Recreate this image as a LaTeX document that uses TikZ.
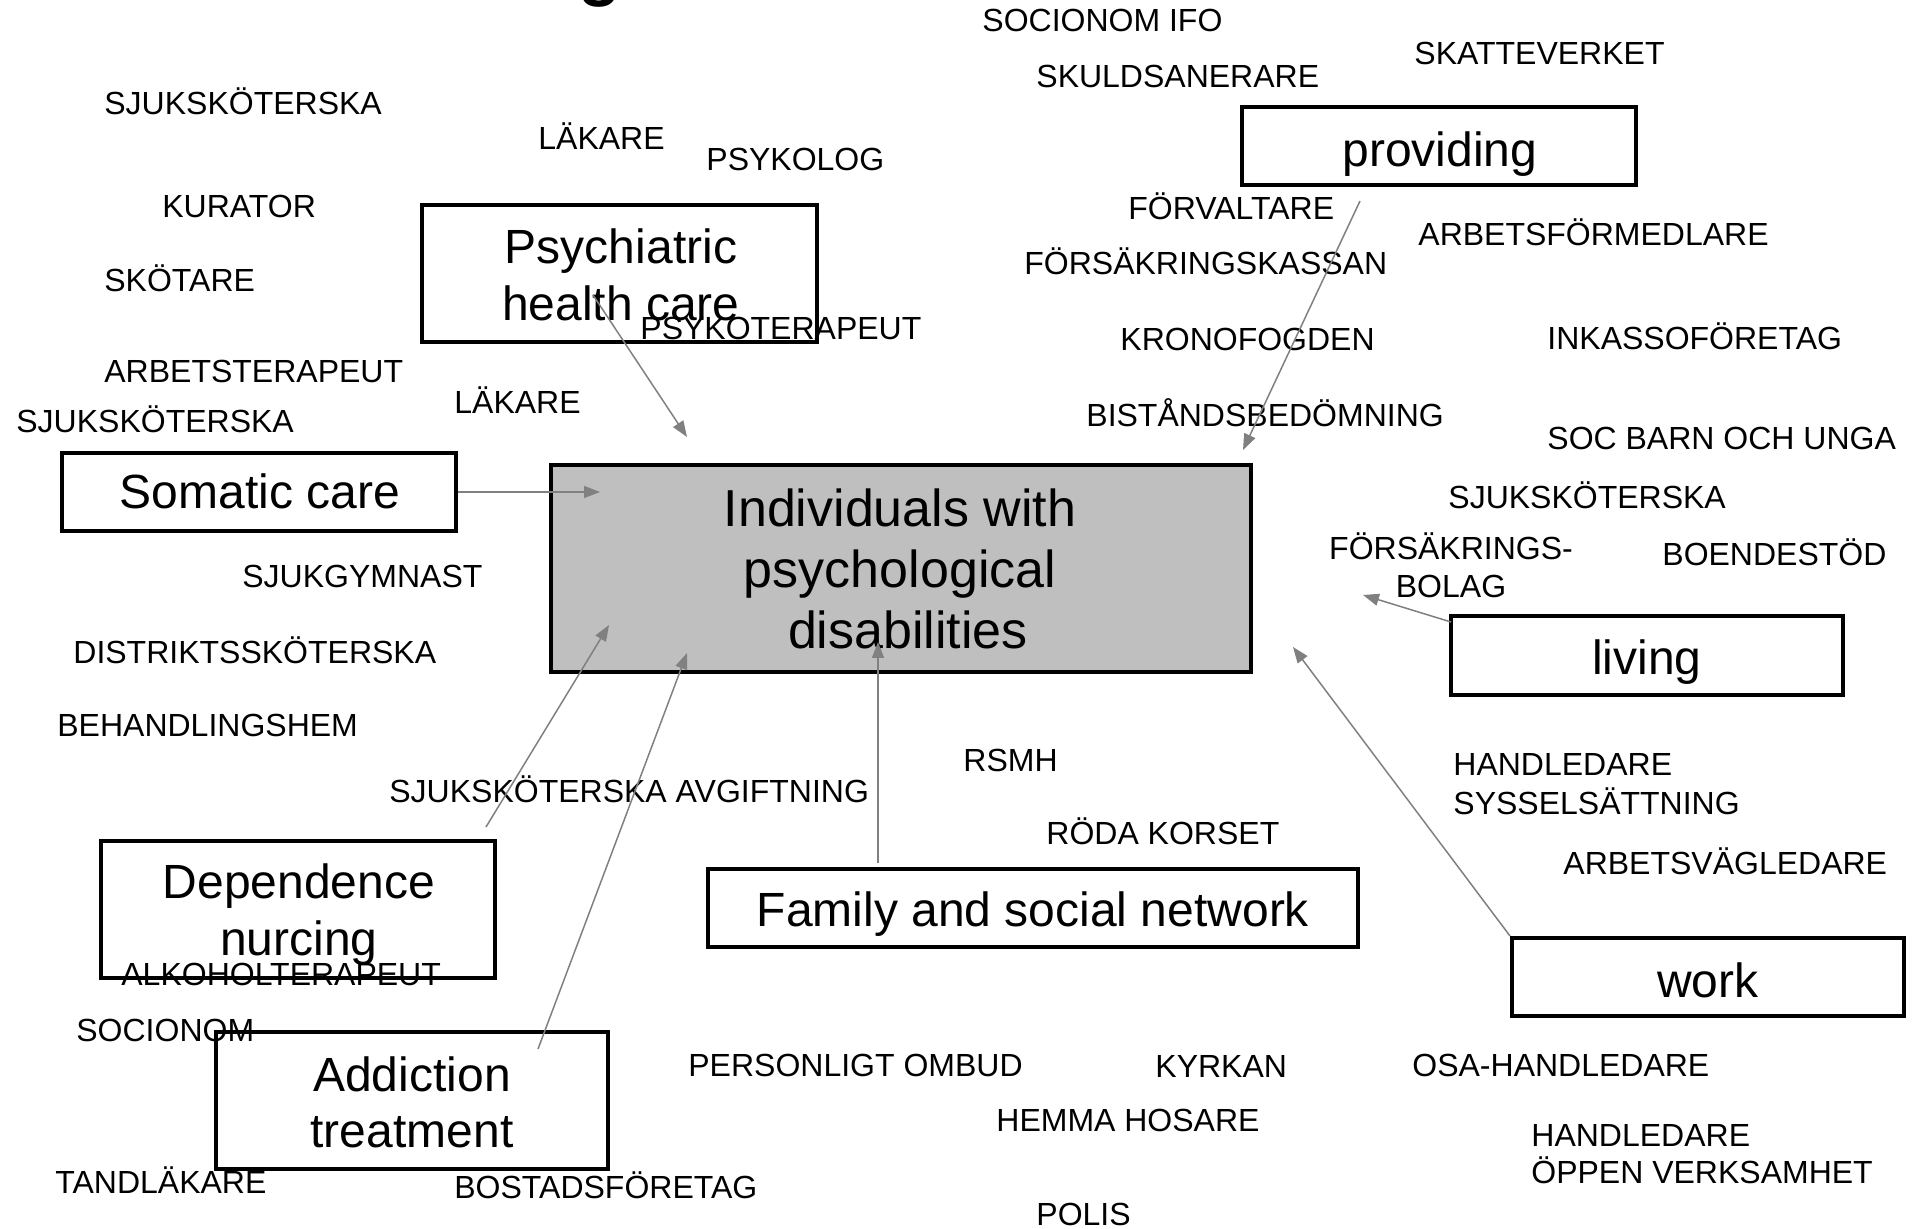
\documentclass[tikz,border=0pt]{standalone}
\usepackage{fontspec}
\setmainfont{Liberation Sans}
\usetikzlibrary{arrows.meta}
\definecolor{boxgray}{HTML}{BFBFBF}
\definecolor{arrgray}{HTML}{808080}
\tikzset{
  box/.style={draw=black, line width=2pt, inner sep=0pt},
  lbl/.style={anchor=base west, inner sep=0pt, font=\fontsize{16}{19}\selectfont},
  lblc/.style={anchor=base, inner sep=0pt, font=\fontsize{16}{19}\selectfont},
  big/.style={anchor=base, inner sep=0pt, font=\fontsize{24}{28}\selectfont},
  bigc/.style={anchor=base, inner sep=0pt, font=\fontsize{26}{30}\selectfont},
  arr/.style={draw=arrgray, line width=0.75pt, -{Triangle[length=8pt,width=6pt]}, arrgray}
}
\begin{document}
\begin{tikzpicture}[x=0.5pt,y=-0.5pt]
\useasboundingbox (0,0) rectangle (1913,1229);
% cut-off title fragment
\node[anchor=base, inner sep=0pt, font=\fontsize{35}{40}\selectfont\bfseries] (title) at (600,-7) {g};

% boxes
\node[box, fill=boxgray, minimum width=350pt, minimum height=103.5pt] (ind) at (901,568.5) {};
\node[box, minimum width=197.5pt, minimum height=68.5pt] (psy) at (619.5,273.5) {};
\node[box, minimum width=197pt, minimum height=39pt] (prov) at (1439,146) {};
\node[box, minimum width=197pt, minimum height=39pt] (som) at (259,492) {};
\node[box, minimum width=196pt, minimum height=39.5pt] (liv) at (1647,655.5) {};
\node[box, minimum width=197pt, minimum height=68.5pt] (dep) at (298,909.5) {};
\node[box, minimum width=325pt, minimum height=39pt] (fam) at (1033,908) {};
\node[box, minimum width=196pt, minimum height=39pt] (work) at (1708,977) {};
\node[box, minimum width=196pt, minimum height=68.5pt] (add) at (412,1100.5) {};

% box texts
\node[bigc] (indA) at (900,527) {Individuals with};
\node[bigc] (indB) at (900,588) {psychological};
\node[bigc] (indC) at (908,649) {disabilities};
\node[big] (psyA) at (621,264) {Psychiatric};
\node[big] (psyB) at (621,321) {health care};
\node[big] (provA) at (1440,167) {providing};
\node[big] (somA) at (260,509) {Somatic care};
\node[big] (livA) at (1647,675) {living};
\node[big] (depA) at (299,899) {Dependence};
\node[big] (depB) at (299,955) {nurcing};
\node[big] (famA) at (1033,927) {Family and social network};
\node[big] (workA) at (1708,997) {work};
\node[big] (addA) at (412,1091) {Addiction};
\node[big] (addB) at (412,1147) {treatment};

% labels
\node[lbl] (l1) at (982,32) {SOCIONOM IFO};
\node[lbl] (l2) at (1414,65) {SKATTEVERKET};
\node[lbl] (l3) at (1036,88) {SKULDSANERARE};
\node[lbl] (l4) at (104,115) {SJUKSKÖTERSKA};
\node[lbl] (l5) at (538,150) {LÄKARE};
\node[lbl] (l6) at (706,171) {PSYKOLOG};
\node[lbl] (l7) at (162,218) {KURATOR};
\node[lbl] (l8) at (1128,220) {FÖRVALTARE};
\node[lbl] (l9) at (1418,246) {ARBETSFÖRMEDLARE};
\node[lbl] (l10) at (1024,275) {FÖRSÄKRINGSKASSAN};
\node[lbl] (l11) at (104,292) {SKÖTARE};
\node[lbl] (l12) at (640,340) {PSYKOTERAPEUT};
\node[lbl] (l13) at (1120,351) {KRONOFOGDEN};
\node[lbl] (l14) at (1547,350) {INKASSOFÖRETAG};
\node[lbl] (l15) at (104,383) {ARBETSTERAPEUT};
\node[lbl] (l16) at (454,414) {LÄKARE};
\node[lbl] (l17) at (1086,427) {BISTÅNDSBEDÖMNING};
\node[lbl] (l18) at (16,433) {SJUKSKÖTERSKA};
\node[lbl] (l19) at (1547,450) {SOC BARN OCH UNGA};
\node[lbl] (l20) at (1448,509) {SJUKSKÖTERSKA};
\node[lblc] (l21a) at (1451,560) {FÖRSÄKRINGS-};
\node[lblc] (l21b) at (1451,598) {BOLAG};
\node[lbl] (l22) at (1662,566) {BOENDESTÖD};
\node[lbl] (l23) at (242,588) {SJUKGYMNAST};
\node[lbl] (l24) at (73,664) {DISTRIKTSSKÖTERSKA};
\node[lbl] (l25) at (57,737) {BEHANDLINGSHEM};
\node[lbl] (l26) at (963,772) {RSMH};
\node[lbl] (l27a) at (1453,776) {HANDLEDARE};
\node[lbl] (l27b) at (1453,815) {SYSSELSÄTTNING};
\node[lbl] (l28) at (389,803) {SJUKSKÖTERSKA AVGIFTNING};
\node[lbl] (l29) at (1046,844) {RÖDA KORSET};
\node[lbl] (l30) at (1563,874) {ARBETSVÄGLEDARE};
\node[lbl] (l31) at (121,985) {ALKOHOLTERAPEUT};
\node[lbl] (l32) at (76,1041) {SOCIONOM};
\node[lbl] (l33) at (688,1076) {PERSONLIGT OMBUD};
\node[lbl] (l34) at (1155,1077) {KYRKAN};
\node[lbl] (l35) at (1412,1076) {OSA-HANDLEDARE};
\node[lbl] (l36) at (996,1131) {HEMMA HOSARE};
\node[lbl] (l37a) at (1531,1146) {HANDLEDARE};
\node[lbl] (l37b) at (1531,1183) {ÖPPEN VERKSAMHET};
\node[lbl] (l38) at (55,1193) {TANDLÄKARE};
\node[lbl] (l39) at (454,1198) {BOSTADSFÖRETAG};
\node[lbl] (l40) at (1036,1225) {POLIS};

% arrow end points
\coordinate (psyS) at (593,295);
\coordinate (psyE) at (687,437);
\coordinate (somE) at (600,492);
\coordinate (provS) at (1360,201);
\coordinate (provE) at (1243,450);
\coordinate (livE) at (1363,595);
\coordinate (workE) at (1293,647);
\coordinate (famS) at (878,863);
\coordinate (famE) at (878,642);
\coordinate (depS) at (486,827);
\coordinate (depE) at (609,625);
\coordinate (addS) at (538,1049);
\coordinate (addE) at (687,653);
\coordinate (livS) at (1451,622);

\draw[arr] (psyS) -- (psyE);
\draw[arr] (som.east) -- (somE);
\draw[arr] (provS) -- (provE);
\draw[arr] (livS) -- (livE);
\draw[arr] (work.north west) -- (workE);
\draw[arr] (famS) -- (famE);
\draw[arr] (depS) -- (depE);
\draw[arr] (addS) -- (addE);
\end{tikzpicture}
\end{document}
